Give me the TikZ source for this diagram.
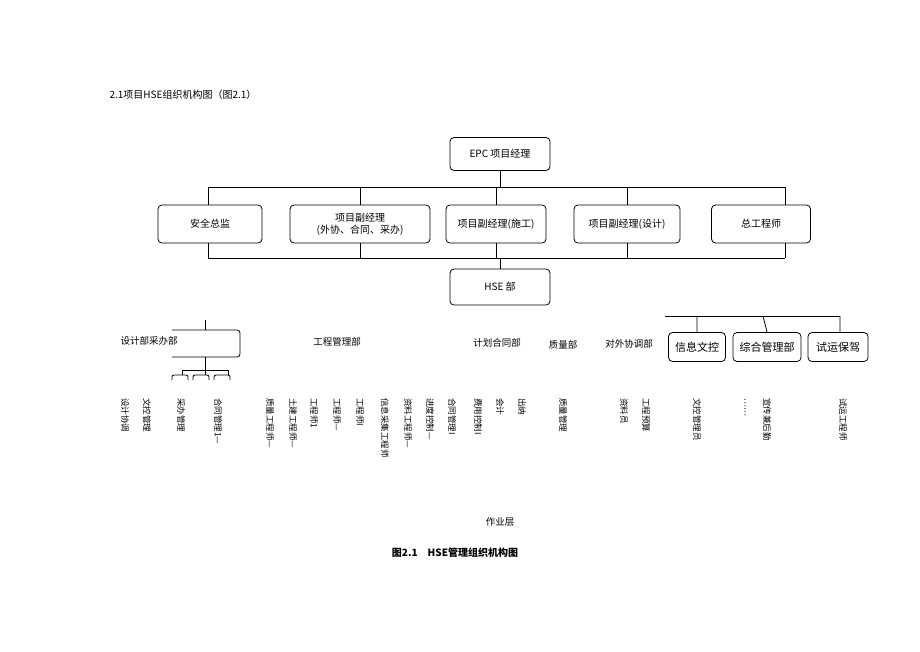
\documentclass[tikz,border=0pt]{standalone}
\usepackage{fontspec}
\setmainfont{Noto Sans CJK SC}
\begin{document}
\begin{tikzpicture}[x=1pt,y=-1pt,
 bx/.style={draw,thick,rounded corners=4pt,align=center,font=\fontsize{10}{12}\selectfont,inner sep=2pt},
 ln/.style={thick},
 vt/.style={rotate=-90,anchor=west,font=\fontsize{8.5}{10}\selectfont,inner sep=0pt},
 lb/.style={font=\fontsize{9.5}{11}\selectfont}]
\useasboundingbox (0,0) rectangle (920,651);
\node[anchor=west,font=\fontsize{10}{12}\selectfont] (t) at (106,95) {2.1项目HSE组织机构图（图2.1）};
\node[bx,minimum width=100pt,minimum height=33pt] (epc) at (500,154) {EPC 项目经理};
\node[bx,minimum width=104pt,minimum height=38pt] (a1) at (210,224) {安全总监};
\node[bx,minimum width=140pt,minimum height=38pt,text width=132pt] (a2) at (360,224) {项目副经理 (外协、合同、采办)};
\node[bx,minimum width=100pt,minimum height=38pt] (a3) at (496,224) {项目副经理(施工)};
\node[bx,minimum width=106pt,minimum height=38pt] (a4) at (627,224) {项目副经理(设计)};
\node[bx,minimum width=99pt,minimum height=38pt] (a5) at (761,224) {总工程师};
\node[bx,minimum width=100pt,minimum height=36pt] (hse) at (500,287) {HSE 部};
\coordinate (l1) at (208,187); \coordinate (r1) at (785,187);
\coordinate (l2) at (208,258); \coordinate (r2) at (785,258);
\draw[ln] (epc.south) -- (500,187);
\draw[ln] (l1) -- (r1);
\draw[ln] (l2) -- (r2);
\foreach \n/\x in {a1/208,a2/360,a3/496,a4/627,a5/785}{
 \draw[ln] (\x,187) -- (\x,205); \draw[ln] (\x,243) -- (\x,258);}
\draw[ln] (500,258) -- (hse.north);
% design/procurement
\node[lb,anchor=west] (d) at (117,341) {设计部采办部};
\draw[ln,rounded corners=3pt] (172,330) -- (240,330) -- (240,357) -- (172,357);
\draw[ln] (205,320) -- (205,330);
\draw[ln] (205,357) -- (205,370);
\draw[ln] (182,370) -- (228,370);
\foreach \x in {172,193,214}{\draw[ln,rounded corners=2pt] (\x,380) -- (\x,375) -- (\x+16,375) -- (\x+16,380);}
\draw[ln] (182,370)--(182,375) (205,370)--(205,375) (228,370)--(228,375);
\node[lb] (g) at (337,342) {工程管理部};
\node[lb] (j) at (497,343) {计划合同部};
\node[lb] (z) at (563,345) {质量部};
\node[lb] (w) at (629,344) {对外协调部};
\draw[ln] (665,316) -- (840,316);
\node[bx,minimum width=57pt,minimum height=29pt,font=\fontsize{11}{12}\selectfont] (b1) at (697,347) {信息文控};
\node[bx,minimum width=68pt,minimum height=29pt,font=\fontsize{11}{12}\selectfont] (b2) at (767,347) {综合管理部};
\node[bx,minimum width=60pt,minimum height=29pt,font=\fontsize{11}{12}\selectfont] (b3) at (838,347) {试运保驾};
\draw[ln] (697,316)--(b1.north) (763,316)--(b2.north) (840,316)--(840,333);
\foreach \x/\s in {125/设计协调,147/文控管理,181/采办管理,218/合同管理1—,270/质量工程师—,293/土建工程师—,314/工程师1,337/工程师—,360/工程师I,385/信息采集工程师,408/资料工程师—,430/进度控制—,452/合同管理I,478/费用控制I,500/会计,522/出纳,563/质量管理,624/资料员,646/工程预算,697/文控管理员,745/……,767/宣传兼后勤,843/试运工程师}
 \node[vt] at (\x,398) {\s};
\node[lb] (zy) at (500,522) {作业层};
\node[font=\fontsize{10}{12}\selectfont\bfseries] (cap) at (455,553) {图2.1\quad HSE管理组织机构图};
\end{tikzpicture}
\end{document}
